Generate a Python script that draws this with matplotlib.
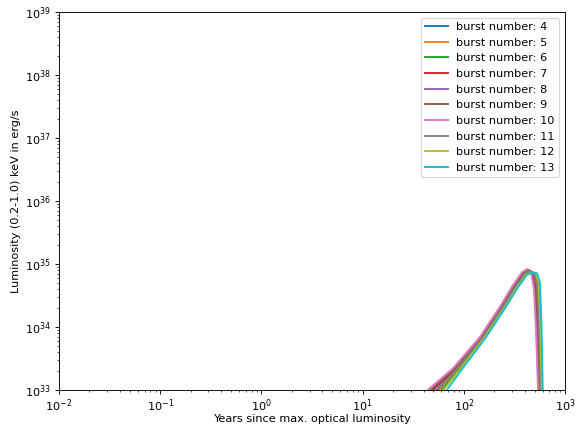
import matplotlib
matplotlib.use("Agg")
import matplotlib.pyplot as plt

# light curves: years since max optical luminosity, luminosity in erg/s
t4 = [34, 54, 85, 152, 240, 323, 397, 448, 491, 525, 546, 567, 576]
L4 = [3e32, 1e33, 2.2e33, 6.8e33, 2.05e34, 4.4e34, 7.0e34, 7.8e34, 7.2e34, 4.4e34, 1.1e34, 1e33, 3e32]
t5 = [37, 57, 87, 155, 245, 329, 404, 457, 502, 536, 557, 577, 586]
L5 = [3e32, 1e33, 2.2e33, 6.7e33, 2.0e34, 4.4e34, 6.9e34, 7.6e34, 7.2e34, 4.6e34, 1.1e34, 1e33, 3e32]
t6 = [39, 60, 89, 156, 248, 332, 409, 464, 509, 543, 564, 584, 593]
L6 = [3e32, 1e33, 2.1e33, 6.6e33, 2.0e34, 4.3e34, 6.9e34, 7.5e34, 7.1e34, 4.7e34, 1.15e34, 1e33, 3e32]
t7 = [32, 50, 83, 149, 236, 317, 390, 439, 481, 514, 536, 559, 568]
L7 = [3e32, 1e33, 2.2e33, 6.8e33, 2.1e34, 4.5e34, 7.1e34, 8.0e34, 7.3e34, 4.2e34, 1.0e34, 1e33, 3e32]
t8 = [30, 46, 80, 146, 231, 310, 381, 427, 469, 501, 524, 547, 556]
L8 = [3e32, 1e33, 2.2e33, 6.9e33, 2.1e34, 4.6e34, 7.3e34, 8.2e34, 7.4e34, 4.0e34, 9.5e33, 1e33, 3e32]
t9 = [31, 48, 81, 147, 234, 314, 385, 433, 476, 508, 531, 553, 562]
L9 = [3e32, 1e33, 2.2e33, 6.9e33, 2.1e34, 4.5e34, 7.2e34, 8.1e34, 7.3e34, 4.1e34, 1.0e34, 1e33, 3e32]
t10 = [28, 44, 78, 144, 228, 306, 376, 421, 462, 494, 517, 541, 550]
L10 = [3e32, 1e33, 2.2e33, 6.9e33, 2.1e34, 4.6e34, 7.4e34, 8.3e34, 7.4e34, 3.9e34, 9e33, 1e33, 3e32]
t11 = [35, 55, 86, 153, 242, 325, 399, 451, 495, 529, 550, 571, 580]
L11 = [3e32, 1e33, 2.2e33, 6.8e33, 2.05e34, 4.4e34, 7.0e34, 7.8e34, 7.2e34, 4.5e34, 1.1e34, 1e33, 3e32]
t12 = [41, 63, 91, 158, 250, 336, 413, 470, 516, 550, 570, 590, 599]
L12 = [3e32, 1e33, 2.1e33, 6.6e33, 2.0e34, 4.3e34, 6.8e34, 7.4e34, 7.1e34, 4.8e34, 1.2e34, 1e33, 3e32]
t13 = [45, 68, 95, 162, 256, 344, 423, 483, 530, 566, 585, 603, 612]
L13 = [3e32, 1e33, 2.1e33, 6.5e33, 2.0e34, 4.3e34, 6.8e34, 7.3e34, 7.1e34, 5.0e34, 1.2e34, 1e33, 3e32]

bursts = [4, 5, 6, 7, 8, 9, 10, 11, 12, 13]
times = [t4, t5, t6, t7, t8, t9, t10, t11, t12, t13]
lums = [L4, L5, L6, L7, L8, L9, L10, L11, L12, L13]

dpi = 81
fig = plt.figure(figsize=(577 / dpi, 428 / dpi), dpi=dpi)
ax = fig.add_axes([59 / 577, 1 - 390 / 428, 506 / 577, 378 / 428])

for b, t, L in zip(bursts, times, lums):
    ax.plot(t, L, linewidth=1.7, label='burst number: ' + str(b))

ax.set_xscale('log')
ax.set_yscale('log')
ax.set_xlim(1e-2, 1e3)
ax.set_ylim(1e33, 1e39)
ax.set_xlabel('Years since max. optical luminosity', labelpad=0)
ax.set_ylabel('Luminosity (0.2-1.0) keV in erg/s')
ax.legend(loc='upper right')

fig.savefig('out.png', dpi=dpi)
